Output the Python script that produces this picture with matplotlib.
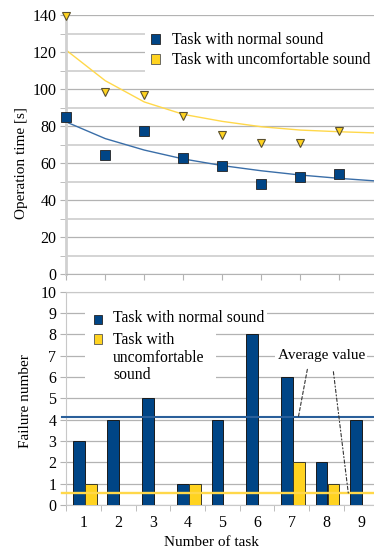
import numpy as np
import matplotlib.pyplot as plt
from matplotlib.patches import Rectangle

plt.rcParams['font.family'] = ['Liberation Serif', 'DejaVu Serif']

# top chart: operation time per task
tasks_top = [1, 2, 3, 4, 5, 6, 7, 8]
time_normal = [85, 64.5, 77.5, 62.5, 58.3, 48.6, 52.2, 53.8]
time_uncomf = [139.5, 98.2, 96.8, 85.3, 75.1, 71.0, 70.6, 77.3]
trend_x = [1, 2, 3, 4, 5, 6, 7, 8, 9]
trend_normal = [82.2, 73.2, 67.0, 62.2, 58.6, 55.8, 53.5, 51.7, 50.2]
trend_uncomf = [121, 104.5, 93.0, 86.3, 82.5, 79.6, 77.8, 76.9, 76.2]

# bottom chart: failures per task
tasks = [1, 2, 3, 4, 5, 6, 7, 8, 9]
fail_normal = [3, 4, 5, 1, 4, 8, 6, 2, 4]
fail_uncomf = [1, 0, 0, 1, 0, 0, 2, 1, 0]

lab_normal = "Task with normal sound"
lab_uncomf = "Task with uncomfortable sound"
lab_uncomf2 = "Task with\nuncomfortable\nsound"

blue = '#004586'
yellow = '#ffd320'
grid = '#b3b3b3'

W, H = 374, 552
fig = plt.figure(figsize=(W / 100, H / 100), dpi=100)


def fx(px):
    return px / W


def fy(py):
    return 1 - py / H


def box(ax, x0, y0, x1, y1, **kw):
    # rectangle given in pixels from top-left of the figure
    r = Rectangle((fx(x0), fy(y1)), fx(x1) - fx(x0), fy(y0) - fy(y1),
                  transform=fig.transFigure, clip_on=False, **kw)
    ax.add_patch(r)


# ---- top
ax1 = fig.add_axes([0.177, 0.5036, 0.835, 0.4692])
ax1.set_xlim(1, 9)
ax1.set_ylim(0, 140)
ax1.set_yticks(np.arange(0, 141, 20))
ax1.set_yticks(np.arange(10, 140, 20), minor=True)
ax1.set_xticks(trend_x)
ax1.set_xticklabels([])
ax1.grid(axis='y', which='major', color=grid, lw=0.9)
ax1.grid(axis='y', which='minor', color='#d4d4d4', lw=1.4)
ax1.set_axisbelow(True)
for s in ['top', 'right']:
    ax1.spines[s].set_visible(False)
ax1.spines['left'].set_color('#d0d0d0')
ax1.spines['left'].set_linewidth(2)
ax1.spines['bottom'].set_color(grid)
ax1.tick_params(axis='both', which='both', length=4, color=grid, labelsize=11.5, pad=3)

ax1.plot(trend_x, trend_uncomf, color='#ffd84a', lw=1, zorder=2)
ax1.plot(trend_x, trend_normal, color='#3a6ea8', lw=1, zorder=2)
ax1.plot(tasks_top, time_uncomf, 'v', color=yellow, mec='#5a5030', mew=0.8, ms=6,
         ls='none', clip_on=False, zorder=4)
ax1.plot(tasks_top, time_normal, 's', color=blue, mec='#222222', mew=0.6, ms=6.5,
         ls='none', clip_on=False, zorder=4)

# legend (drawn by hand to match the layout)
box(ax1, 145, 28, 376, 72, facecolor='white', edgecolor='none', zorder=1.5)
box(ax1, 150.5, 34.5, 160, 44, facecolor=blue, edgecolor='#222222', lw=0.6, zorder=5)
box(ax1, 150.5, 54.5, 160, 64, facecolor=yellow, edgecolor='#555555', lw=0.6, zorder=5)
fig.text(fx(172), fy(39.5), lab_normal, fontsize=11.3, ha='left', va='center')
fig.text(fx(172), fy(59.5), lab_uncomf, fontsize=11.3, ha='left', va='center')

fig.text(fx(22), fy(163), "Operation time [s]", rotation=90, ha='center', va='center',
         fontsize=11)

# ---- bottom
ax2 = fig.add_axes([0.177, 0.0851, 0.835, 0.3865])
w = 0.34
x = np.array(tasks)
ax2.bar(x - 0.14, fail_normal, w, color=blue, edgecolor='#1a1a1a', lw=0.7, zorder=3)
ax2.bar(x + 0.205, fail_uncomf, w, color=yellow, edgecolor='#3a3a2a', lw=0.7, zorder=3)
avg_n = np.mean(fail_normal)
avg_u = np.mean(fail_uncomf)
ax2.axhline(avg_n, xmin=-0.013, color='#2a5f9a', lw=1.5, zorder=4, clip_on=False)
ax2.axhline(avg_u, xmin=-0.013, color='#ffd84a', lw=1.7, zorder=4, clip_on=False)

ax2.set_xlim(0.5, 9.5)
ax2.set_ylim(0, 10)
ax2.set_yticks(range(0, 11))
ax2.set_xticks(tasks)
ax2.set_xticks(np.arange(0.5, 9.6, 1), minor=True)
ax2.grid(axis='y', color=grid, lw=0.9)
ax2.set_axisbelow(True)
for s in ax2.spines.values():
    s.set_color('#c8c8c8')
ax2.tick_params(axis='y', length=4, color=grid, labelsize=11.5, pad=3)
ax2.tick_params(axis='x', which='major', length=0, labelsize=11.5, pad=7)
ax2.tick_params(axis='x', which='minor', length=4, color=grid)

ax2.text(7.85, 7.03, "Average value", fontsize=11, ha='center', va='center', zorder=6,
         bbox=dict(facecolor='white', edgecolor='none', pad=1.5))
ax2.annotate('', xy=(7.19, avg_n), xytext=(7.45, 6.36),
             arrowprops=dict(arrowstyle='-', color='#333333', lw=0.8, ls=(0, (3, 2)),
                             shrinkA=0, shrinkB=0), zorder=5)
ax2.annotate('', xy=(8.63, avg_u), xytext=(8.2, 6.25),
             arrowprops=dict(arrowstyle='-', color='#333333', lw=0.8, ls=(0, (3, 2, 1, 2)),
                             shrinkA=0, shrinkB=0), zorder=5)

# legend: white backing below the bars, above the grid
box(ax2, 85, 307, 267, 329, facecolor='white', edgecolor='none', zorder=1)
box(ax2, 85, 329, 216, 390, facecolor='white', edgecolor='none', zorder=1)
box(ax2, 93.5, 315, 102, 324, facecolor=blue, edgecolor='#222222', lw=0.6, zorder=5)
box(ax2, 93.5, 334.5, 102, 343.5, facecolor=yellow, edgecolor='#555555', lw=0.6, zorder=5)
fig.text(fx(113), fy(318.5), lab_normal, fontsize=11.3, ha='left', va='center')
fig.text(fx(113), fy(357.5), lab_uncomf2, fontsize=11.3, ha='left', va='center',
         linespacing=1.15)

fig.text(fx(26), fy(401), "Failure number", rotation=90, ha='center', va='center',
         fontsize=11)
fig.text(fx(211.5), fy(543), "Number of task", ha='center', va='center', fontsize=11)

fig.savefig('out.png', dpi=100)
